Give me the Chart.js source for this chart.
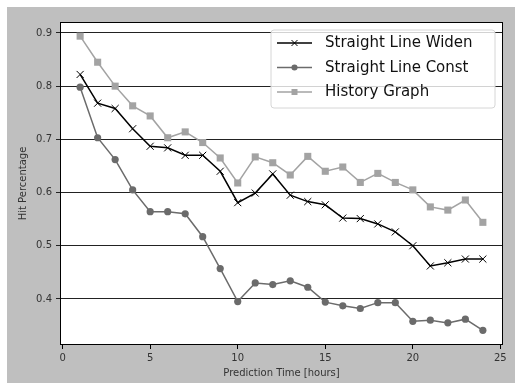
<!DOCTYPE html>
<html>
<head>
<meta charset="utf-8">
<script src="https://cdn.jsdelivr.net/npm/chart.js@4/dist/chart.umd.min.js"></script>
<style>
  html, body { margin: 0; padding: 0; background: #ffffff; }
  canvas { display: block; }
</style>
</head>
<body>
<canvas id="c" width="515" height="389"></canvas>
<script>
const hours = [1,2,3,4,5,6,7,8,9,10,11,12,13,14,15,16,17,18,19,20,21,22,23,24];
const straightLineWiden = [0.822,0.768,0.758,0.720,0.687,0.684,0.670,0.670,0.640,0.581,0.599,0.635,
                           0.595,0.583,0.577,0.552,0.551,0.541,0.526,0.500,0.462,0.468,0.475,0.475];
const straightLineConst = [0.798,0.703,0.662,0.605,0.564,0.564,0.560,0.517,0.457,0.395,0.430,0.427,
                           0.434,0.422,0.394,0.387,0.382,0.393,0.393,0.358,0.360,0.355,0.362,0.341];
const historyGraph = [0.894,0.845,0.800,0.763,0.744,0.703,0.714,0.694,0.665,0.618,0.667,0.656,
                      0.633,0.668,0.640,0.648,0.619,0.636,0.619,0.605,0.573,0.567,0.586,0.544];
const seriesLabels = ['Straight Line Widen', 'Straight Line Const', 'History Graph'];
const xTicks = [0,5,10,15,20,25];
const xTickLabels = ['0','5','10','15','20','25'];
const yTicks = [0.4,0.5,0.6,0.7,0.8,0.9];
const yTickLabels = ['0.4','0.5','0.6','0.7','0.8','0.9'];
const xTitle = 'Prediction Time [hours]';
const yTitle = 'Hit Percentage';

const FONT = 'DejaVu Sans';
const toPts = arr => hours.map((h, i) => ({x: h, y: arr[i]}));

const bgPlugin = {
  id: 'bg',
  beforeDraw(chart) {
    const {ctx, chartArea: a} = chart;
    ctx.save();
    ctx.fillStyle = '#ffffff';
    ctx.fillRect(0, 0, chart.width, chart.height);
    ctx.fillStyle = '#bfbfbf';
    ctx.fillRect(7, 7, chart.width - 7, 376);
    ctx.fillStyle = '#ffffff';
    ctx.fillRect(a.left, a.top, a.right - a.left, a.bottom - a.top);
    ctx.restore();
  },
  afterDraw(chart) {
    const {ctx, chartArea: a} = chart;
    ctx.save();
    // frame
    ctx.strokeStyle = '#000000';
    ctx.lineWidth = 1;
    ctx.strokeRect(Math.round(a.left) + 0.5, Math.round(a.top) + 0.5,
                   Math.round(a.right - a.left) - 1, Math.round(a.bottom - a.top) - 1);
    // legend
    const bx = 271, by = 30, bw = 224, bh = 78, r = 3;
    ctx.beginPath();
    ctx.moveTo(bx + r, by);
    ctx.lineTo(bx + bw - r, by); ctx.quadraticCurveTo(bx + bw, by, bx + bw, by + r);
    ctx.lineTo(bx + bw, by + bh - r); ctx.quadraticCurveTo(bx + bw, by + bh, bx + bw - r, by + bh);
    ctx.lineTo(bx + r, by + bh); ctx.quadraticCurveTo(bx, by + bh, bx, by + bh - r);
    ctx.lineTo(bx, by + r); ctx.quadraticCurveTo(bx, by, bx + r, by);
    ctx.closePath();
    ctx.fillStyle = 'rgba(255,255,255,0.8)';
    ctx.fill();
    ctx.strokeStyle = '#d6d6d6';
    ctx.lineWidth = 1;
    ctx.stroke();
    chart.data.datasets.forEach((ds, i) => {
      const cy = 43 + i * 24.5;
      ctx.strokeStyle = ds.borderColor;
      ctx.lineWidth = ds.borderWidth;
      ctx.beginPath();
      ctx.moveTo(277, cy); ctx.lineTo(312, cy);
      ctx.stroke();
      ctx.fillStyle = ds.pointBackgroundColor;
      ctx.strokeStyle = ds.pointBorderColor;
      ctx.lineWidth = ds.pointBorderWidth;
      Chart.helpers.drawPoint(ctx, {
        pointStyle: ds.pointStyle, radius: ds.pointRadius * 0.85, rotation: 0,
        borderWidth: ds.pointBorderWidth
      }, 294.5, cy);
      ctx.fillStyle = '#111111';
      ctx.font = '15px "' + FONT + '"';
      ctx.textBaseline = 'middle';
      ctx.textAlign = 'left';
      ctx.fillText(ds.label, 325, cy + 0.5);
    });
    ctx.restore();
  }
};

new Chart(document.getElementById('c'), {
  type: 'line',
  data: {
    datasets: [
      {
        label: seriesLabels[0], data: toPts(straightLineWiden),
        borderColor: '#000000', backgroundColor: '#000000', borderWidth: 1.5,
        pointStyle: 'crossRot', pointRadius: 5, pointBorderWidth: 1,
        pointBorderColor: '#000000', pointBackgroundColor: '#000000'
      },
      {
        label: seriesLabels[1], data: toPts(straightLineConst),
        borderColor: '#6b6b6b', backgroundColor: '#6b6b6b', borderWidth: 1.5,
        pointStyle: 'circle', pointRadius: 3.6, pointBorderWidth: 0,
        pointBorderColor: '#6b6b6b', pointBackgroundColor: '#6b6b6b'
      },
      {
        label: seriesLabels[2], data: toPts(historyGraph),
        borderColor: '#a3a3a3', backgroundColor: '#a3a3a3', borderWidth: 1.5,
        pointStyle: 'rect', pointRadius: 5, pointBorderWidth: 0,
        pointBorderColor: '#a3a3a3', pointBackgroundColor: '#a3a3a3'
      }
    ]
  },
  options: {
    responsive: false,
    devicePixelRatio: 1,
    animation: false,
    layout: { padding: { top: 22, right: 12, left: 0, bottom: 0 } },
    plugins: { legend: { display: false }, tooltip: { enabled: false } },
    elements: { line: { tension: 0 } },
    scales: {
      x: {
        type: 'linear', min: -0.15, max: 25.15,
        afterFit: s => { s.height = 44; },
        afterBuildTicks: s => { s.ticks = xTicks.map(v => ({value: v})); },
        border: { display: false },
        grid: { drawOnChartArea: false, drawTicks: true, tickLength: 4, color: '#000000', lineWidth: 1 },
        ticks: {
          color: '#333333', font: { family: FONT, size: 10 }, padding: 3, maxRotation: 0,
          callback: (v) => xTickLabels[xTicks.indexOf(v)]
        },
        title: { display: true, text: xTitle, color: '#333333', font: { family: FONT, size: 10 }, padding: { bottom: 10, top: 0 } }
      },
      y: {
        type: 'linear', min: 0.3134, max: 0.9206,
        afterFit: s => { s.width = 60; },
        afterBuildTicks: s => { s.ticks = yTicks.map(v => ({value: v})); },
        border: { display: false },
        grid: { drawOnChartArea: true, drawTicks: true, tickLength: 4, color: '#222222', lineWidth: 1 },
        ticks: {
          color: '#333333', font: { family: FONT, size: 10 }, padding: 4,
          callback: (v) => yTickLabels[yTicks.findIndex(t => Math.abs(t - v) < 1e-9)]
        },
        title: { display: true, text: yTitle, color: '#333333', font: { family: FONT, size: 10 }, padding: { top: 17, bottom: 0 } }
      }
    }
  },
  plugins: [bgPlugin]
});
</script>
</body>
</html>
